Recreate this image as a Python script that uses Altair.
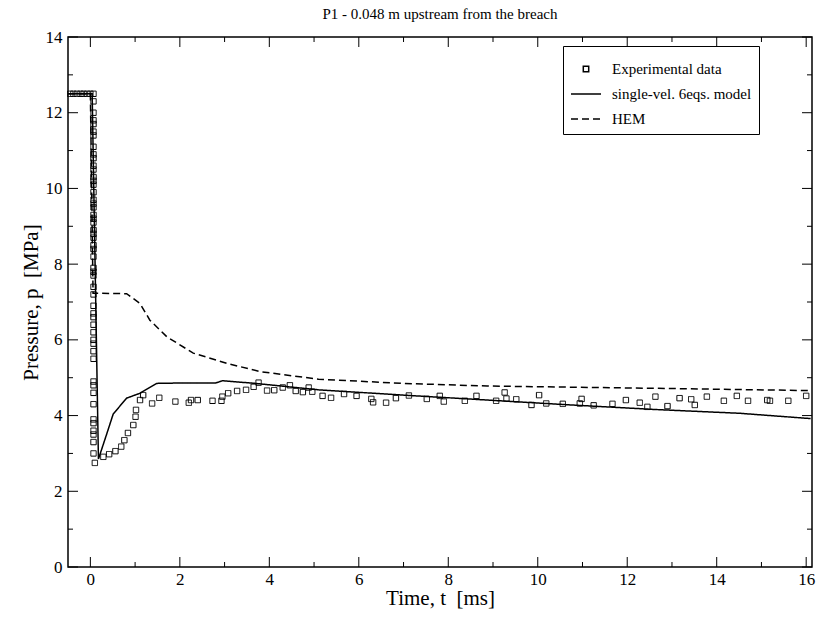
import altair as alt
import pandas as pd

# experimental data (t in ms, p in MPa)
exp_t = [-0.45, -0.38, -0.3, -0.22, -0.15, -0.07, 0.0] + [0.07] * 52 + [
    0.1, 0.29, 0.42, 0.56, 0.69, 0.76, 0.84, 0.96, 1.01, 1.02, 1.11, 1.18,
    1.38, 1.54, 1.90, 2.20, 2.25, 2.40, 2.73, 2.93, 2.95, 3.08, 3.28, 3.48, 3.65, 3.76,
    3.95, 4.11, 4.30, 4.46, 4.59, 4.75, 4.88, 4.96, 5.19, 5.38, 5.67, 5.95, 6.28, 6.32,
    6.61, 6.83, 7.12, 7.52, 7.81, 7.90, 8.37, 8.63, 9.07, 9.26, 9.30, 9.52, 9.86, 10.03,
    10.19, 10.56, 10.94, 10.98, 11.25, 11.67, 11.97, 12.28, 12.45, 12.63, 12.90, 13.17,
    13.43, 13.51, 13.78, 14.16, 14.45, 14.70, 15.13, 15.19, 15.60, 16.0]
exp_p = [12.5] * 7 + [
    12.5, 12.3, 12.0, 11.8, 11.7, 11.5, 11.4, 11.1, 10.9, 10.8, 10.6, 10.5, 10.3,
    10.2, 10.1, 9.9, 9.7, 9.6, 9.5, 9.3, 9.2, 9.1, 8.9, 8.8, 8.7, 8.5, 8.4, 8.2,
    7.9, 7.8, 7.7, 7.4, 7.2, 6.9, 6.7, 6.6, 6.4, 6.2, 6.0, 5.9, 5.7, 5.5, 4.9,
    4.8, 4.6, 4.3, 3.9, 3.8, 3.6, 3.5, 3.3, 3.0] + [
    2.75, 2.91, 2.98, 3.06, 3.18, 3.35, 3.54, 3.75, 3.97, 4.15, 4.41, 4.54,
    4.32, 4.47, 4.37, 4.34, 4.41, 4.41, 4.39, 4.39, 4.50, 4.59, 4.65, 4.68, 4.76, 4.87,
    4.66, 4.67, 4.74, 4.80, 4.65, 4.62, 4.74, 4.63, 4.52, 4.47, 4.57, 4.52, 4.44, 4.35,
    4.34, 4.46, 4.53, 4.44, 4.52, 4.37, 4.39, 4.52, 4.39, 4.61, 4.45, 4.43, 4.28, 4.54,
    4.32, 4.31, 4.32, 4.44, 4.27, 4.31, 4.41, 4.34, 4.23, 4.50, 4.25, 4.46,
    4.43, 4.28, 4.50, 4.39, 4.52, 4.39, 4.41, 4.39, 4.39, 4.52]

# single-velocity 6 equations model
model_t = [-0.5, 0.0, 0.04, 0.18, 0.37, 0.51, 0.81, 1.11, 1.48, 2.0, 2.8, 2.95,
           3.69, 5.1, 7.0, 8.87, 10.75, 12.63, 14.52, 16.1]
model_p = [12.5, 12.5, 12.5, 2.85, 3.53, 4.04, 4.46, 4.59, 4.85, 4.86, 4.86, 4.92,
           4.85, 4.68, 4.54, 4.41, 4.28, 4.16, 4.06, 3.92]

# HEM
hem_t = [-0.5, 0.0, 0.06, 0.17, 0.81, 1.11, 1.33, 1.71, 2.3, 3.05, 3.8, 5.1,
         7.0, 8.87, 10.75, 12.63, 16.1]
hem_p = [12.5, 12.5, 7.23, 7.23, 7.22, 6.96, 6.52, 6.08, 5.65, 5.38, 5.16, 4.96,
         4.85, 4.78, 4.75, 4.72, 4.66]

x_ticks = list(range(0, 17))
y_ticks = list(range(0, 15))

series = ["Experimental data", "single-vel. 6eqs. model", "HEM"]

exp_df = pd.DataFrame({"t": exp_t, "p": exp_p, "s": series[0]})
line_df = pd.concat([
    pd.DataFrame({"t": model_t, "p": model_p, "s": series[1], "o": range(len(model_t))}),
    pd.DataFrame({"t": hem_t, "p": hem_p, "s": series[2], "o": range(len(hem_t))}),
])

font = "Liberation Serif"
xs = alt.Scale(domain=[-0.5, 16.13], nice=False, zero=False)
ys = alt.Scale(domain=[0, 14], nice=False)

small_square = "M-0.18,-0.18H0.18V0.18H-0.18Z"
legend = alt.Legend(title=None, orient="none", legendX=495, legendY=9,
                    strokeColor="black", padding=7, labelFont=font, labelFontSize=15,
                    symbolSize=900, symbolStrokeWidth=1.5, symbolStrokeColor="black",
                    symbolFillColor="transparent", rowPadding=1, labelOffset=10)
shape = alt.Shape("s:N", scale=alt.Scale(domain=series, range=[small_square, "stroke", "stroke"]),
                  legend=legend)
dash = alt.StrokeDash("s:N", scale=alt.Scale(domain=series, range=[[1, 0], [1, 0], [7, 4]]),
                      legend=legend)

x_axis = alt.Axis(values=list(range(0, 17, 2)), title="Time, t\u00a0\u00a0[ms]", grid=False,
                  ticks=False, labelPadding=4, titlePadding=0)
y_axis = alt.Axis(values=list(range(0, 15, 2)), title="Pressure, p\u00a0\u00a0[MPa]", grid=False,
                  ticks=False, labelPadding=6)

points = alt.Chart(exp_df).mark_point(filled=False, color="black", size=900, strokeWidth=1,
                                      opacity=1).encode(
    x=alt.X("t:Q", scale=xs, axis=x_axis),
    y=alt.Y("p:Q", scale=ys, axis=y_axis),
    shape=shape,
    strokeDash=dash,
)

lines = alt.Chart(line_df).mark_line(color="black", strokeWidth=1.5).encode(
    x=alt.X("t:Q", scale=xs),
    y=alt.Y("p:Q", scale=ys),
    order="o:Q",
    detail="s:N",
    shape=shape,
    strokeDash=dash,
)

# inward tick marks
xt = pd.DataFrame({"v": x_ticks, "len": [10 if v % 2 == 0 else 5 for v in x_ticks]})
yt = pd.DataFrame({"v": y_ticks, "len": [10 if v % 2 == 0 else 5 for v in y_ticks]})
xtick_b = alt.Chart(xt).transform_calculate(y1="530", y2="530 - datum.len").mark_rule(color="black").encode(
    x=alt.X("v:Q", scale=xs), y=alt.Y("y1:Q", scale=None), y2="y2:Q")
xtick_t = alt.Chart(xt).transform_calculate(y1="0", y2="datum.len").mark_rule(color="black").encode(
    x=alt.X("v:Q", scale=xs), y=alt.Y("y1:Q", scale=None), y2="y2:Q")
ytick_l = alt.Chart(yt).transform_calculate(x1="0", x2="datum.len").mark_rule(color="black").encode(
    y=alt.Y("v:Q", scale=ys), x=alt.X("x1:Q", scale=None), x2="x2:Q")
ytick_r = alt.Chart(yt).transform_calculate(x1="744", x2="744 - datum.len").mark_rule(color="black").encode(
    y=alt.Y("v:Q", scale=ys), x=alt.X("x1:Q", scale=None), x2="x2:Q")

chart = alt.layer(points, lines, xtick_b, xtick_t, ytick_l, ytick_r).properties(
    width=744, height=530,
    title=alt.Title("P1 - 0.048 m upstream from the breach", font=font, fontSize=15,
                    fontWeight="normal", offset=6),
    autosize=alt.AutoSizeParams(type="none"),
    padding={"left": 60, "top": 29, "right": 6, "bottom": 50},
).configure_view(stroke="black", strokeWidth=1.5).configure_axis(
    labelFont=font, labelFontSize=17, titleFont=font, titleFontSize=21,
    titleFontWeight="normal", domain=False, labelColor="black", titleColor="black",
).resolve_scale(shape="shared", strokeDash="shared")

chart.save("out.html", embed_options={"renderer": "svg", "actions": False})
